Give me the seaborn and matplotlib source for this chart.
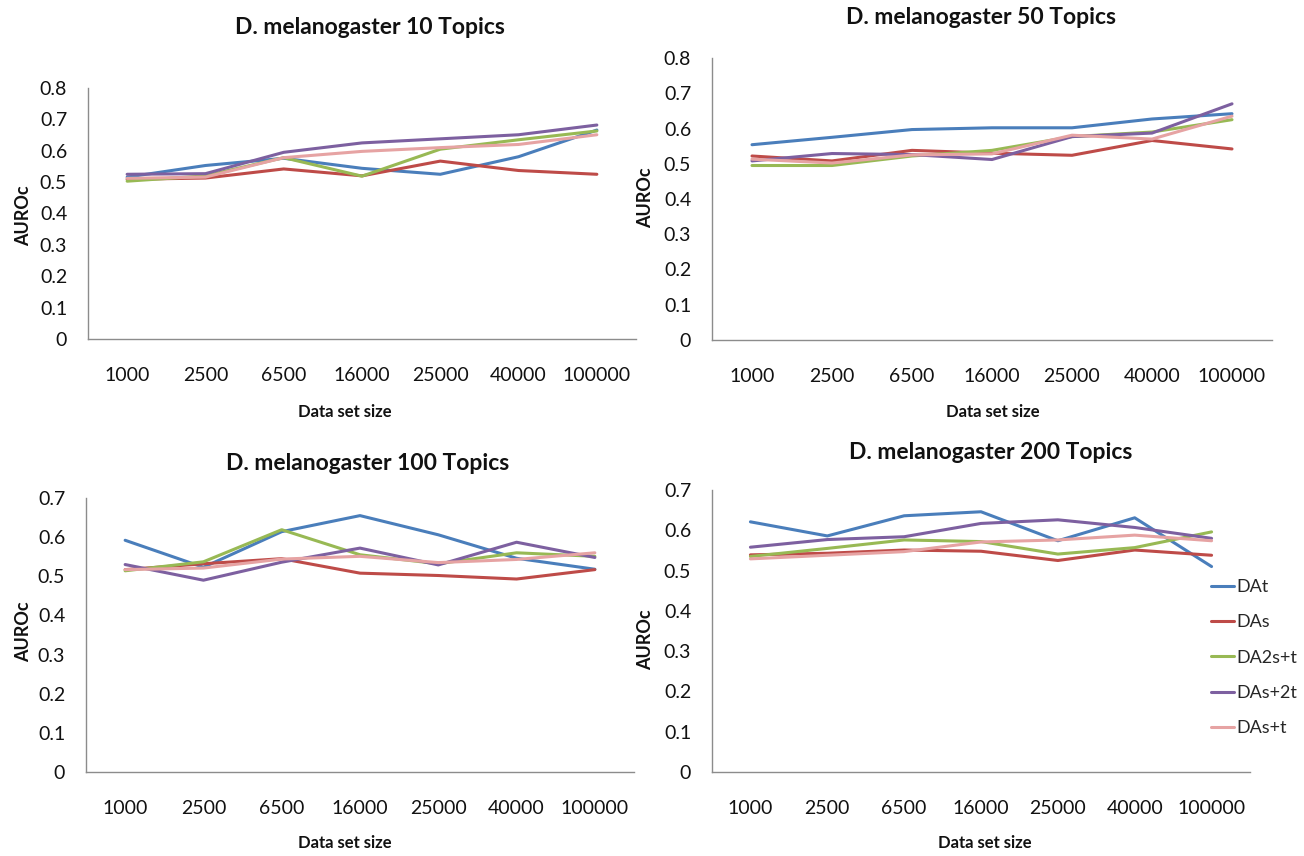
import numpy as np
import pandas as pd
import matplotlib
matplotlib.use("Agg")
import matplotlib.pyplot as plt
from matplotlib.ticker import FixedLocator, NullFormatter
import seaborn as sns

sizes = ["1000", "2500", "6500", "16000", "25000", "40000", "100000"]
methods = ["DAt", "DAs", "DA2s+t", "DAs+2t", "DAs+t"]
colors = ["#4A7EBB", "#BE4B48", "#98B954", "#7D60A0", "#E6A3A3"]

# AUROC per method, topics = 10
t10_dat = [0.516, 0.553, 0.576, 0.544, 0.525, 0.581, 0.666]
t10_das = [0.509, 0.513, 0.542, 0.520, 0.567, 0.537, 0.525]
t10_da2st = [0.503, 0.520, 0.578, 0.519, 0.605, 0.635, 0.663]
t10_das2t = [0.525, 0.527, 0.595, 0.625, 0.638, 0.651, 0.682]
t10_dast = [0.512, 0.516, 0.578, 0.598, 0.610, 0.620, 0.651]

# topics = 50
t50_dat = [0.554, 0.575, 0.597, 0.602, 0.602, 0.627, 0.642]
t50_das = [0.522, 0.508, 0.538, 0.530, 0.524, 0.566, 0.542]
t50_da2st = [0.495, 0.495, 0.522, 0.538, 0.577, 0.590, 0.625]
t50_das2t = [0.508, 0.529, 0.526, 0.512, 0.577, 0.587, 0.670]
t50_dast = [0.513, 0.502, 0.525, 0.528, 0.581, 0.570, 0.635]

# topics = 100
t100_dat = [0.592, 0.523, 0.614, 0.655, 0.606, 0.546, 0.518]
t100_das = [0.517, 0.532, 0.545, 0.508, 0.502, 0.493, 0.517]
t100_da2st = [0.514, 0.537, 0.619, 0.555, 0.532, 0.560, 0.551]
t100_das2t = [0.530, 0.490, 0.536, 0.572, 0.529, 0.587, 0.548]
t100_dast = [0.517, 0.521, 0.544, 0.551, 0.535, 0.543, 0.560]

# topics = 200
t200_dat = [0.621, 0.586, 0.636, 0.646, 0.574, 0.631, 0.510]
t200_das = [0.539, 0.543, 0.551, 0.548, 0.525, 0.551, 0.538]
t200_da2st = [0.535, 0.555, 0.576, 0.572, 0.541, 0.557, 0.596]
t200_das2t = [0.558, 0.577, 0.584, 0.617, 0.626, 0.607, 0.580]
t200_dast = [0.529, 0.538, 0.547, 0.571, 0.576, 0.588, 0.574]

titles = ["D. melanogaster 10 Topics", "D. melanogaster 50 Topics",
          "D. melanogaster 100 Topics", "D. melanogaster 200 Topics"]
panels = [
    [t10_dat, t10_das, t10_da2st, t10_das2t, t10_dast],
    [t50_dat, t50_das, t50_da2st, t50_das2t, t50_dast],
    [t100_dat, t100_das, t100_da2st, t100_das2t, t100_dast],
    [t200_dat, t200_das, t200_da2st, t200_das2t, t200_dast],
]
ymax = [0.8, 0.8, 0.7, 0.7]

sns.set_style("white")
plt.rcParams["font.family"] = ["Lato", "DejaVu Sans"]

W, H = 1304, 856
fig = plt.figure(figsize=(W / 100, H / 100), dpi=100)

def frac_box(left, top, right, bottom):
    return [left / W, 1 - bottom / H, (right - left) / W, (bottom - top) / H]

# plot-area boxes in pixels: left, top, right, bottom
boxes = [
    (88, 88, 636, 339),
    (712, 58, 1272, 340),
    (86, 498, 634, 772),
    (712, 490, 1250, 772),
]
title_pos = [(370, 27), (981, 18), (368, 464), (991, 453)]
ylab_pos = [(24, 216), (646, 198), (24, 632), (646, 640)]
xlab_pos = [(345, 412), (993, 412), (345, 843), (985, 843)]

axis_grey = "#8C8C8C"
palette = dict(zip(methods, colors))

for k, (series, box) in enumerate(zip(panels, boxes)):
    ax = fig.add_axes(frac_box(*box))
    df = pd.DataFrame({
        "pos": np.tile(np.arange(len(sizes)), len(methods)),
        "AUROC": np.concatenate(series),
        "method": np.repeat(methods, len(sizes)),
    })
    sns.lineplot(data=df, x="pos", y="AUROC", hue="method", hue_order=methods,
                 palette=palette, linewidth=2.2, ax=ax, legend=False)
    ax.set_xlim(-0.5, len(sizes) - 0.5)
    ax.set_ylim(0, ymax[k])
    ax.set_xlabel("")
    ax.set_ylabel("")

    ax.xaxis.set_major_locator(FixedLocator(np.arange(len(sizes))))
    ax.set_xticklabels(sizes)
    ax.xaxis.set_minor_locator(FixedLocator(np.arange(len(sizes) + 1) - 0.5))
    ax.xaxis.set_minor_formatter(NullFormatter())
    ax.tick_params(axis="x", which="major", length=0, pad=20, labelsize=14,
                   labelcolor="#111111")
    ax.tick_params(axis="x", which="minor", length=7, width=1,
                   color=axis_grey, direction="out")
    yt = np.round(np.arange(0, ymax[k] + 0.01, 0.1), 1)
    ax.set_yticks(yt)
    ax.set_yticklabels([("0" if v == 0 else f"{v:.1f}") for v in yt])
    ax.tick_params(axis="y", length=5, width=1, color=axis_grey,
                   direction="out", pad=10, labelsize=14, labelcolor="#111111")

    for side in ("top", "right"):
        ax.spines[side].set_visible(False)
    for side in ("left", "bottom"):
        ax.spines[side].set_color(axis_grey)
        ax.spines[side].set_linewidth(1)

    tx, ty = title_pos[k]
    fig.text(tx / W, 1 - ty / H, titles[k], ha="center", va="center",
             fontsize=16.5, fontweight="bold", color="#111111")
    lx, ly = ylab_pos[k]
    fig.text(lx / W, 1 - ly / H, "AUROc", ha="center", va="center",
             rotation=90, fontsize=13, fontweight="bold", color="#111111")
    xx, xy = xlab_pos[k]
    fig.text(xx / W, 1 - xy / H, "Data set size", ha="center", va="center",
             fontsize=12, fontweight="bold", color="#111111")

handles = [plt.Line2D([], [], color=c, linewidth=2.2) for c in colors]
fig.legend(handles, methods, loc="upper left",
           bbox_to_anchor=(1211 / W, 1 - 579 / H), frameon=False,
           fontsize=13, handlelength=1.3, handletextpad=0.12,
           labelspacing=1.07, borderaxespad=0, borderpad=0)

fig.savefig("out.png", dpi=100, facecolor="white")
